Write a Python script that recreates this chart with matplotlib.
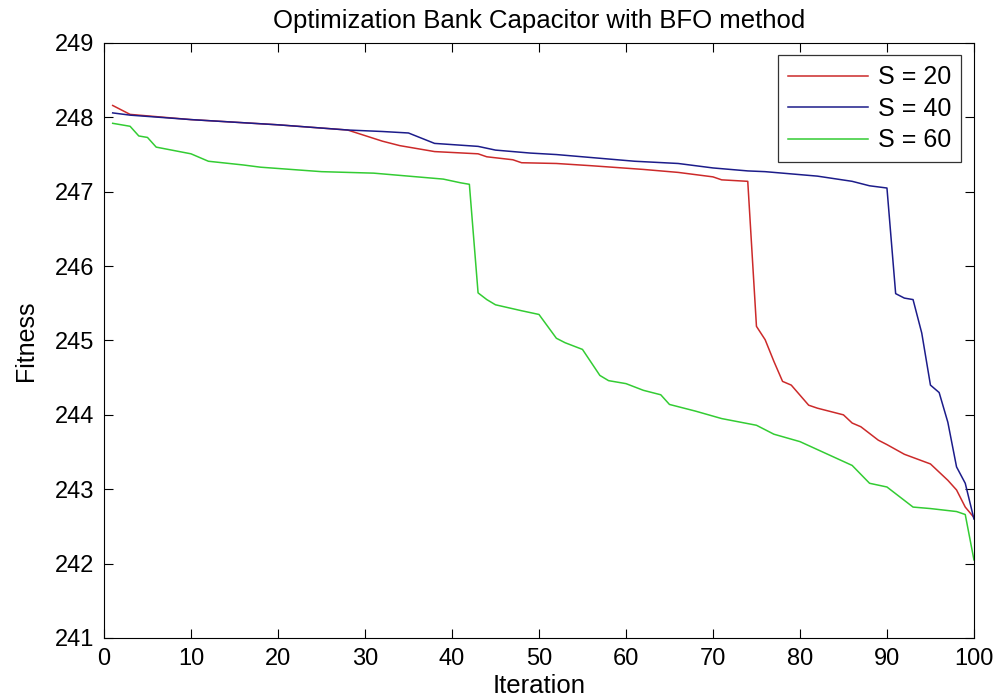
import matplotlib
matplotlib.use("Agg")
import matplotlib.pyplot as plt

plt.rcParams['font.family'] = ['Liberation Sans', 'DejaVu Sans']

# best fitness per iteration (breakpoints of each curve)
it_s20 = [1, 3, 10, 20, 28, 32, 34, 38, 43, 44, 47, 48, 52, 56, 62, 66, 70, 71, 74,
          75, 76, 77, 78, 79, 81, 82, 85, 86, 87, 89, 90, 92, 95, 97, 98, 99, 100]
fit_s20 = [248.16, 248.04, 247.97, 247.90, 247.83, 247.68, 247.62, 247.54, 247.51, 247.47,
           247.43, 247.39, 247.38, 247.35, 247.30, 247.26, 247.20, 247.16, 247.14,
           245.19, 245.01, 244.72, 244.45, 244.40, 244.13, 244.09, 244.00, 243.89, 243.84,
           243.66, 243.60, 243.47, 243.34, 243.12, 242.99, 242.76, 242.62]

it_s40 = [1, 3, 10, 20, 28, 32, 35, 38, 43, 45, 49, 52, 57, 61, 66, 70, 74, 76, 82, 86,
          88, 90, 91, 92, 93, 94, 95, 96, 97, 98, 99, 100]
fit_s40 = [248.06, 248.03, 247.97, 247.90, 247.83, 247.81, 247.79, 247.65, 247.61, 247.56,
           247.52, 247.50, 247.45, 247.41, 247.38, 247.32, 247.28, 247.27, 247.21, 247.14,
           247.08, 247.05, 245.63, 245.57, 245.55, 245.10, 244.40, 244.30, 243.90, 243.30,
           243.08, 242.60]

it_s60 = [1, 3, 4, 5, 6, 10, 12, 16, 18, 25, 31, 34, 39, 41, 42, 43, 44, 45, 48, 50, 52,
          53, 55, 57, 58, 60, 62, 64, 65, 66, 68, 71, 75, 77, 80, 83, 86, 88, 90, 93, 95,
          98, 99, 100]
fit_s60 = [247.92, 247.88, 247.75, 247.73, 247.60, 247.51, 247.41, 247.36, 247.33, 247.27,
           247.25, 247.22, 247.17, 247.12, 247.10, 245.64, 245.55, 245.48, 245.40, 245.35,
           245.03, 244.97, 244.88, 244.53, 244.46, 244.42, 244.33, 244.27, 244.14, 244.11,
           244.05, 243.95, 243.86, 243.74, 243.64, 243.48, 243.32, 243.08, 243.03, 242.76,
           242.74, 242.70, 242.66, 242.05]

labels = ['S = 20', 'S = 40', 'S = 60']
colors = ['#cc2a2a', '#1c1c8a', '#33cc33']

fig = plt.figure(figsize=(9.98, 6.98), dpi=100)
ax = fig.add_axes([0.1042, 0.086, 0.8717, 0.8524])

ax.plot(it_s20, fit_s20, color=colors[0], lw=1.1, label=labels[0])
ax.plot(it_s40, fit_s40, color=colors[1], lw=1.1, label=labels[1])
ax.plot(it_s60, fit_s60, color=colors[2], lw=1.1, label=labels[2])

ax.set_xlim(0, 100)
ax.set_ylim(241, 249)
ax.set_xticks(range(0, 101, 10))
ax.set_yticks(range(241, 250))
ax.tick_params(direction='in', length=6.5, width=0.8, top=True, right=True,
               labelsize=17, pad=7)
for s in ax.spines.values():
    s.set_linewidth(0.8)

ax.set_title('Optimization Bank Capacitor with BFO method', fontsize=18.5, pad=11)
ax.set_xlabel('Iteration', fontsize=18.5, labelpad=3)
ax.set_ylabel('Fitness', fontsize=18, labelpad=12)

leg = ax.legend(loc='upper right', fontsize=18, fancybox=False, frameon=True,
                edgecolor='black', handlelength=3.2, handletextpad=0.4,
                labelspacing=0.3, borderaxespad=0.5, borderpad=0.4)
leg.get_frame().set_linewidth(0.9)

fig.savefig('out.png', dpi=100)
